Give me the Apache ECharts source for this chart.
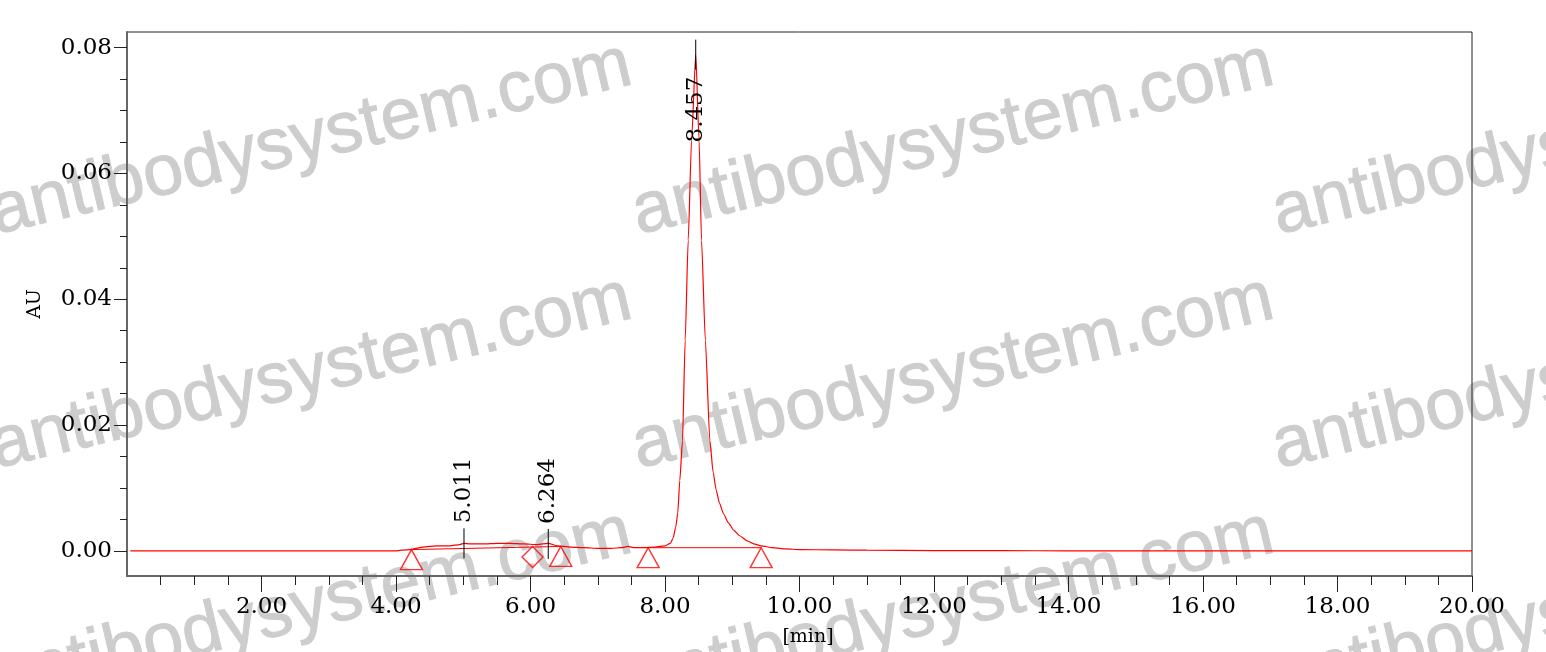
<!DOCTYPE html>
<html>
<head>
<meta charset="utf-8">
<script src="https://cdn.jsdelivr.net/npm/echarts@6/dist/echarts.min.js"></script>
<style>
  html, body { margin: 0; padding: 0; background: #fff; }
  #chart { width: 1546px; height: 652px; }
</style>
</head>
<body>
<div id="chart"></div>
<script>
// chromatogram trace (min, AU)
const signalTime = [0.05, 0.5, 1.0, 1.5, 2.0, 2.5, 3.0, 3.5, 4.0, 4.2, 4.4, 4.6, 4.8, 4.95, 5.01, 5.1, 5.3, 5.5, 5.7, 5.9, 6.1, 6.26, 6.4, 6.6, 6.8, 7.0, 7.2, 7.35, 7.45, 7.55, 7.7, 7.85, 8.0, 8.08, 8.12, 8.16, 8.19, 8.22, 8.26, 8.30, 8.345, 8.395, 8.457, 8.507, 8.543, 8.60, 8.667, 8.716, 8.76, 8.81, 8.87, 8.94, 9.02, 9.11, 9.22, 9.32, 9.43, 9.6, 9.8, 10.0, 10.5, 11.0, 12.0, 13.0, 14.0, 16.0, 18.0, 20.0];
const signalAU = [0.0, 0.0, 0.0, 0.0, 0.0, 0.0, 0.0, 0.0, 0.0, 0.0002, 0.0006, 0.0008, 0.0008, 0.0010, 0.0012, 0.0011, 0.0011, 0.0012, 0.0012, 0.0011, 0.0010, 0.0012, 0.0008, 0.0006, 0.0005, 0.0004, 0.0004, 0.0005, 0.0007, 0.0005, 0.0005, 0.0006, 0.0008, 0.0012, 0.0020, 0.0038, 0.0060, 0.0112, 0.0175, 0.0335, 0.0494, 0.0653, 0.0789, 0.0653, 0.0494, 0.0335, 0.0175, 0.0125, 0.0097, 0.0076, 0.0059, 0.0045, 0.0033, 0.0024, 0.0016, 0.0011, 0.0008, 0.0005, 0.0003, 0.0002, 0.00015, 0.0001, 0.00005, 0.00003, 0.0, 0.0, 0.0, 0.0];

// integration baselines
const base1Time = [4.23, 6.45];
const base1AU = [0.0002, 0.0007];
const base2Time = [7.75, 9.43];
const base2AU = [0.0005, 0.0005];

// peak start/end markers
const triangleTime = [4.23, 6.45, 7.75, 9.43];
const triangleAU = [0.0002, 0.0007, 0.0005, 0.0005];
const diamondTime = [6.03];
const diamondAU = [0.0006];

// retention time labels
const peakTime = [5.011, 6.264, 8.457];
const peakAU = [0.0012, 0.0011, 0.0789];

const xTicks = [2, 4, 6, 8, 10, 12, 14, 16, 18, 20];
const yTicks = [0, 0.02, 0.04, 0.06, 0.08];

const watermarkText = 'antibodysystem.com';

const zip = (a, b) => a.map((v, i) => [v, b[i]]);

const xMinor = [];
for (let t = 0.5; t < 20; t += 0.5) if (t % 2 !== 0) xMinor.push(t);
const yMinor = [];
for (let v = 0.005; v < 0.08; v += 0.005) {
  const r = Math.round(v * 1000) / 1000;
  if (Math.round(r * 1000) % 20 !== 0) yMinor.push(r);
}

const serif = '"DejaVu Serif", "Liberation Serif", serif';
const RED = '#ff0000';

const wmCols = [0, 642, 1282];
const wmRows = [250, 484, 718];
const watermarks = [];
wmCols.forEach((x) => {
  wmRows.forEach((y) => {
    watermarks.push({
      type: 'text', x, y, rotation: 0.232, z: -10, silent: true,
      style: {
        text: watermarkText, font: '72px "Liberation Sans", Arial, sans-serif',
        fill: '#cdcdcd', stroke: '#cdcdcd', lineWidth: 1,
        align: 'left', textAlign: 'left', verticalAlign: 'bottom', textVerticalAlign: 'bottom'
      }
    });
  });
});

const chart = echarts.init(document.getElementById('chart'));

const renderPeakLabel = (params, api) => {
  const p = api.coord([api.value(0), api.value(1)]);
  const top = params.coordSys.y;
  const label = api.value(0).toFixed(3);
  const flip = p[1] - 20 - 70 < top;
  return {
    type: 'group',
    children: [
      { type: 'line', shape: { x1: p[0], y1: p[1] - 15, x2: p[0], y2: p[1] + 15 }, style: { stroke: '#000', lineWidth: 1 } },
      {
        type: 'text', x: p[0], y: flip ? p[1] + 22 : p[1] - 20, rotation: Math.PI / 2,
        style: {
          text: label, font: '23px ' + serif, fill: '#000',
          align: flip ? 'right' : 'left', textAlign: flip ? 'right' : 'left',
          verticalAlign: 'middle', textVerticalAlign: 'middle'
        }
      }
    ]
  };
};

const hollow = { color: 'rgba(0,0,0,0)', borderColor: RED, borderWidth: 1.4 };

chart.setOption({
  animation: false,
  backgroundColor: '#fff',
  graphic: watermarks,
  grid: { left: 127, right: 74, top: 32, bottom: 76, show: true, borderColor: '#222', borderWidth: 1, outerBoundsMode: 'none' },
  xAxis: [
    {
      type: 'value', min: 0, max: 20, position: 'bottom',
      name: '[min]', nameLocation: 'middle', nameGap: 52,
      nameTextStyle: { fontFamily: serif, fontSize: 19, color: '#000', padding: [0, 0, 0, 17] },
      axisLine: { onZero: false, lineStyle: { color: '#666', width: 2 } },
      axisTick: { customValues: xTicks, length: 16, lineStyle: { color: '#222' } },
      axisLabel: { customValues: xTicks, margin: 20, fontFamily: serif, fontSize: 23, color: '#000', formatter: (v) => v.toFixed(2) },
      splitLine: { show: false }
    },
    {
      type: 'value', min: 0, max: 20, position: 'bottom',
      axisLine: { show: false, onZero: false },
      axisTick: { customValues: xMinor, length: 9, lineStyle: { color: '#222' } },
      axisLabel: { show: false },
      splitLine: { show: false }
    }
  ],
  yAxis: [
    {
      type: 'value', min: -0.004, max: 0.0825, position: 'left',
      name: 'AU', nameLocation: 'middle', nameGap: 82, nameRotate: 90,
      nameTextStyle: { fontFamily: serif, fontSize: 19, color: '#000' },
      axisLine: { show: true, lineStyle: { color: '#666', width: 2 } },
      axisTick: { customValues: yTicks, length: 13, lineStyle: { color: '#222' } },
      axisLabel: { customValues: yTicks, margin: 15, fontFamily: serif, fontSize: 23, color: '#000', formatter: (v) => v.toFixed(2) },
      splitLine: { show: false }
    },
    {
      type: 'value', min: -0.004, max: 0.0825, position: 'left',
      axisLine: { show: false },
      axisTick: { customValues: yMinor, length: 7, lineStyle: { color: '#222' } },
      axisLabel: { show: false },
      splitLine: { show: false }
    }
  ],
  series: [
    {
      type: 'line', data: zip(signalTime, signalAU), showSymbol: false,
      smooth: 0.2, smoothMonotone: 'x',
      lineStyle: { color: RED, width: 1.2 }, z: 3
    },
    { type: 'line', data: zip(base1Time, base1AU), showSymbol: false, lineStyle: { color: RED, width: 1 } },
    { type: 'line', data: zip(base2Time, base2AU), showSymbol: false, lineStyle: { color: RED, width: 1 } },
    {
      type: 'scatter', data: zip(triangleTime, triangleAU), symbol: 'triangle',
      symbolSize: [22, 20], symbolOffset: [0, 10], itemStyle: hollow
    },
    {
      type: 'scatter', data: zip(diamondTime, diamondAU), symbol: 'diamond',
      symbolSize: [21, 21], symbolOffset: [0, 10], itemStyle: hollow
    },
    { type: 'custom', data: zip(peakTime, peakAU), renderItem: renderPeakLabel, z: 4 }
  ]
});
</script>
</body>
</html>
